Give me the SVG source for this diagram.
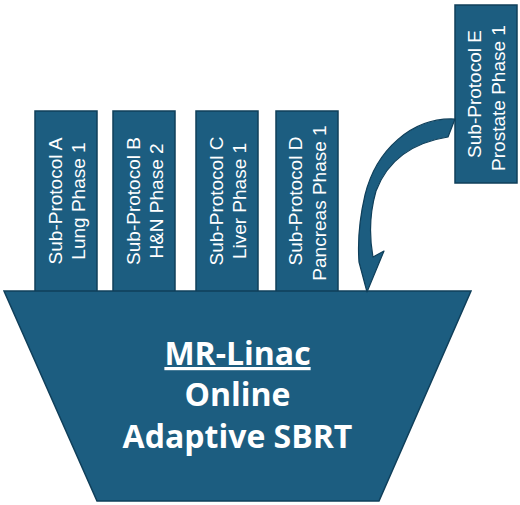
<svg xmlns="http://www.w3.org/2000/svg" width="520" height="505" viewBox="0 0 520 505">
<style>
.box{fill:#1c5d80;stroke:#0f3f5a;stroke-width:1.5}
.lbl{font-family:"Liberation Sans",Arial,sans-serif;font-size:19px;fill:#ffffff;text-anchor:middle}
.main{font-family:"Open Sans","Liberation Sans",sans-serif;font-weight:bold;font-size:32px;fill:#ffffff;text-anchor:middle}
.arrow{fill:#1c5d80;stroke:#0f3f5a;stroke-width:1.2;stroke-linejoin:round}
</style>
<rect width="520" height="505" fill="#ffffff"/>
<g id="subA">
<rect class="box" x="35" y="111" width="62" height="181"/>
<text class="lbl" transform="translate(61.5,201) rotate(-90)">Sub-Protocol A</text>
<text class="lbl" transform="translate(85,201) rotate(-90)">Lung Phase 1</text>
</g>
<g id="subB">
<rect class="box" x="113" y="111" width="62" height="181"/>
<text class="lbl" transform="translate(139.5,201) rotate(-90)">Sub-Protocol B</text>
<text class="lbl" transform="translate(163,201) rotate(-90)">H&amp;N Phase 2</text>
</g>
<g id="subC">
<rect class="box" x="196" y="111" width="62" height="181"/>
<text class="lbl" transform="translate(222.5,201) rotate(-90)">Sub-Protocol C</text>
<text class="lbl" transform="translate(246,201) rotate(-90)">Liver  Phase 1</text>
</g>
<g id="subD">
<rect class="box" x="276" y="111" width="62" height="181"/>
<text class="lbl" transform="translate(302,201) rotate(-90)">Sub-Protocol D</text>
<text class="lbl" transform="translate(325.5,203) rotate(-90)">Pancreas  Phase 1</text>
</g>
<g id="subE">
<rect class="box" x="455" y="5" width="62" height="178"/>
<text class="lbl" transform="translate(480.5,94) rotate(-90)">Sub-Protocol E</text>
<text class="lbl" transform="translate(505,98) rotate(-90)">Prostate  Phase 1</text>
</g>
<g id="mrlinac">
<polygon class="box" points="4,291 471,291 379,501 97,501"/>
<text class="main" x="237.5" y="365" text-decoration="underline">MR-Linac</text>
<text class="main" x="237.5" y="406">Online</text>
<text class="main" x="237.5" y="448">Adaptive SBRT</text>
</g>
<g id="connectors">
<path class="arrow" d="M455,119 C412,117 376,150 365,195 C358,225 358,248 359,262 L367,292 L384,251 L373,257 C369,235 370,212 376,191 C387,162 410,143 448,137 Z"/>
</g>
</svg>
